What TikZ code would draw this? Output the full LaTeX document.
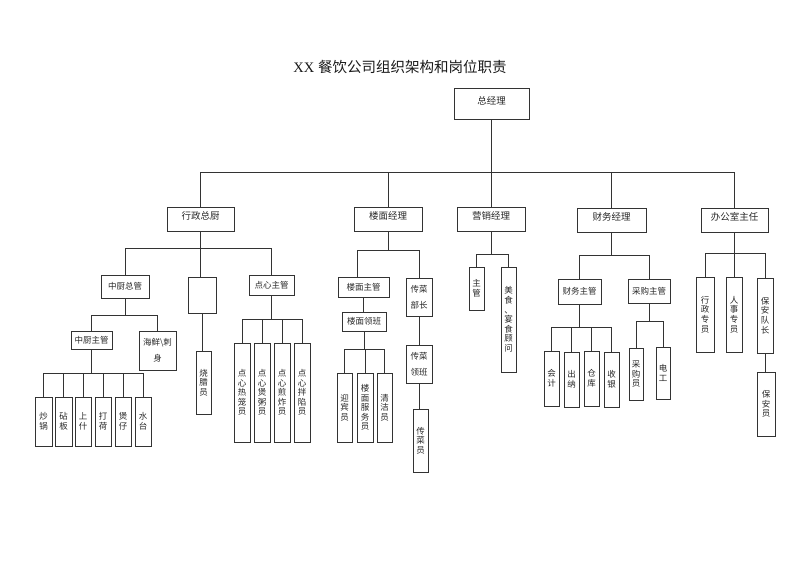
\documentclass[tikz,border=0pt]{standalone}
\usepackage{fontspec}
\setmainfont{Liberation Serif}
\newfontfamily\cjk{Noto Sans CJK SC}
\usetikzlibrary{calc}
\tikzset{
  box/.style={draw=black!80, line width=0.7pt, inner sep=0pt, align=center, text=black!85,
              font=\cjk\fontsize{8.5}{9.6}\selectfont},
  head/.style={font=\cjk\fontsize{9.5}{11}\selectfont, text height=8pt, text depth=7pt},
  twoline/.style={font=\cjk\fontsize{8.5}{16}\selectfont},
  link/.style={draw=black!80, line width=0.7pt}
}
\newcommand\mybox[7][]{\node[box,#1,minimum width={#5-#3},minimum height={#6-#4}] (#2) at ({(#3+#5)/2},{(#4+#6)/2}) {#7};}
\begin{document}
\begin{tikzpicture}[x=1pt,y=-1pt]
\useasboundingbox (0,0) rectangle (800,566);
\node[font=\fontsize{14.5}{16}\selectfont, text=black!90] (title) at (400,67) {XX {\cjk 餐饮公司组织架构和岗位职责}};

% level 1 and 2
\mybox[head]{zjl}{454}{88}{529}{119}{总经理}
\mybox[head]{xzzc}{167}{207}{234}{231}{行政总厨}
\mybox[head]{lmjl}{354}{207}{422}{231}{楼面经理}
\mybox[head]{yxjl}{457}{207}{525}{231}{营销经理}
\mybox[head]{cwjl}{577}{208}{646}{232}{财务经理}
\mybox[head]{bgs}{701}{208}{768}{232}{办公室主任}

% kitchen
\mybox{zczg}{101}{275}{149}{298}{中厨总管}
\mybox{empty}{188}{277}{216}{313}{}
\mybox{dxzg}{249}{275}{294}{295}{点心主管}
\mybox{zczhu}{71}{331}{112}{349}{中厨主管}
\mybox[twoline]{hx}{139}{331}{176}{370}{海鲜\textbackslash 刺\\身}
\mybox{sly}{196}{351}{211}{414}{烧\\腊\\员}
\mybox{cg}{35}{397}{52}{446}{炒\\锅}
\mybox{zb}{55}{397}{72}{446}{砧\\板}
\mybox{ss}{75}{397}{91}{446}{上\\什}
\mybox{dh}{95}{397}{111}{446}{打\\荷}
\mybox{bz}{115}{397}{131}{446}{煲\\仔}
\mybox{st}{135}{397}{151}{446}{水\\台}
\mybox{dx1}{234}{343}{250}{442}{点\\心\\热\\笼\\员}
\mybox{dx2}{254}{343}{270}{442}{点\\心\\煲\\粥\\员}
\mybox{dx3}{274}{343}{290}{442}{点\\心\\煎\\炸\\员}
\mybox{dx4}{294}{343}{310}{442}{点\\心\\拌\\陷\\员}

% floor
\mybox{lmzg}{338}{277}{389}{297}{楼面主管}
\mybox{lmlb}{342}{312}{386}{331}{楼面领班}
\mybox{ybx}{337}{373}{352}{442}{迎\\宾\\员}
\mybox{fwy}{357}{373}{373}{442}{楼\\面\\服\\务\\员}
\mybox{qjy}{377}{373}{392}{442}{清\\洁\\员}
\mybox[twoline]{cczz}{406}{278}{432}{316}{传菜\\部长}
\mybox[twoline]{cclb}{406}{345}{432}{383}{传菜\\领班}
\mybox{ccy}{413}{409}{428}{472}{传\\菜\\员}

% marketing
\mybox{yxzg}{469}{267}{484}{310}{主\\管}
\mybox{msgw}{501}{267}{516}{372}{美\\食\\、\\宴\\食\\顾\\问}

% finance
\mybox{cwzg}{558}{279}{601}{304}{财务主管}
\mybox{cgzg}{628}{279}{670}{303}{采购主管}
\mybox{kj}{544}{351}{559}{406}{会\\计}
\mybox{cn}{564}{352}{579}{407}{出\\纳}
\mybox{ck}{584}{351}{599}{406}{仓\\库}
\mybox{sy}{604}{352}{619}{407}{收\\银}
\mybox{cgy}{629}{348}{643}{400}{采\\购\\员}
\mybox{dg}{656}{347}{670}{399}{电\\工}

% office
\mybox{xzzy}{696}{277}{714}{352}{行\\政\\专\\员}
\mybox{rszy}{726}{277}{742}{352}{人\\事\\专\\员}
\mybox{badz}{757}{278}{773}{353}{保\\安\\队\\长}
\mybox{bay}{757}{372}{775}{436}{保\\安\\员}

% rails
\coordinate (bus) at (0,172);
\coordinate (r1) at (0,248);
\coordinate (r2) at (0,250);
\coordinate (r3) at (0,254);
\coordinate (r4) at (0,255);
\coordinate (r5) at (0,253);
\coordinate (r6) at (0,315);
\coordinate (r7) at (0,373);
\coordinate (r8) at (0,319);
\coordinate (r9) at (0,349);
\coordinate (r10) at (0,327);
\coordinate (r11) at (0,321);

% top
\draw[link] (zjl.south) -- (zjl.south |- bus);
\draw[link] (xzzc.north) |- (bgs.north |- bus) -- (bgs.north);
\foreach \n in {lmjl,yxjl,cwjl} \draw[link] (\n.north) -- (\n.north |- bus);

% kitchen
\draw[link] (xzzc.south) -- (xzzc.south |- empty.north);
\draw[link] (zczg.north) |- (dxzg.north |- r1) -- (dxzg.north);
\draw[link] (zczg.south) -- (zczg.south |- r6);
\draw[link] (zczhu.north) |- (hx.north |- r6) -- (hx.north);
\draw[link] (zczhu.south) -- (zczhu.south |- r7);
\draw[link] (cg.north) |- (st.north |- r7) -- (st.north);
\foreach \n in {zb,ss,dh,bz} \draw[link] (\n.north) -- (\n.north |- r7);
\draw[link] (empty.south) -- (empty.south |- sly.north);
\draw[link] (dxzg.south) -- (dxzg.south |- r8);
\draw[link] (dx1.north) |- (dx4.north |- r8) -- (dx4.north);
\foreach \n in {dx2,dx3} \draw[link] (\n.north) -- (\n.north |- r8);

% floor
\draw[link] (lmjl.south) -- (lmjl.south |- r2);
\draw[link] ($(lmzg.north)+(-6.5,0)$) |- (cczz.north |- r2) -- (cczz.north);
\draw[link] (lmzg.south) -- (lmzg.south |- lmlb.north);
\draw[link] (lmlb.south) -- (lmlb.south |- r9);
\draw[link] (ybx.north) |- (qjy.north |- r9) -- (qjy.north);
\draw[link] (fwy.north) -- (fwy.north |- r9);
\draw[link] (cczz.south) -- (cczz.south |- cclb.north);
\draw[link] (cclb.south) -- (cclb.south |- ccy.north);

% marketing
\draw[link] (yxjl.south) -- (yxjl.south |- r3);
\draw[link] (yxzg.north) |- (msgw.north |- r3) -- (msgw.north);

% finance
\draw[link] (cwjl.south) -- (cwjl.south |- r4);
\draw[link] (cwzg.north) |- (cgzg.north |- r4) -- (cgzg.north);
\draw[link] (cwzg.south) -- (cwzg.south |- r10);
\draw[link] (kj.north) |- (sy.north |- r10) -- (sy.north);
\foreach \n in {cn,ck} \draw[link] (\n.north) -- (\n.north |- r10);
\draw[link] (cgzg.south) -- (cgzg.south |- r11);
\draw[link] (cgy.north) |- (dg.north |- r11) -- (dg.north);

% office
\draw[link] (bgs.south) -- (bgs.south |- r5);
\draw[link] (xzzy.north) |- (badz.north |- r5) -- (badz.north);
\draw[link] (rszy.north) -- (rszy.north |- r5);
\draw[link] (badz.south) -- (badz.south |- bay.north);
\end{tikzpicture}
\end{document}
